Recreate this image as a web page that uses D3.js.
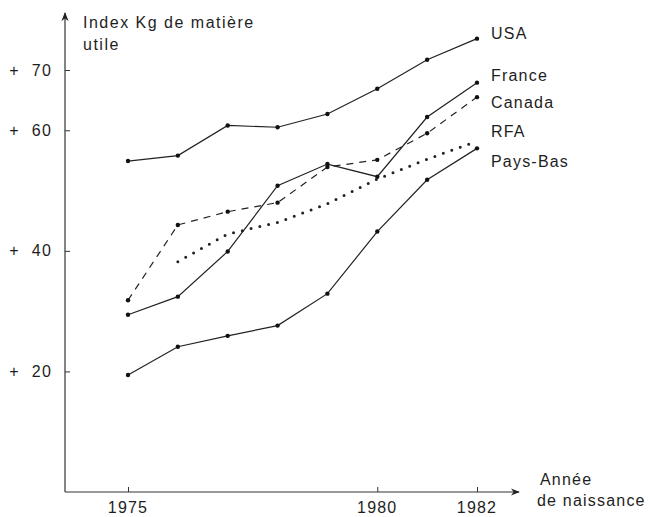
<!DOCTYPE html>
<html>
<head>
<meta charset="utf-8">
<script src="https://cdn.jsdelivr.net/npm/d3@7"></script>
<style>
  body { margin: 0; background: #fff; }
  svg text { font-family: "Liberation Sans", Arial, sans-serif; fill: #1e1e1e; font-size: 16px; letter-spacing: 1.2px; }
</style>
</head>
<body>
<div id="chart"></div>
<script>
// data
const years = [1975, 1976, 1977, 1978, 1979, 1980, 1981, 1982];
const usa      = [54.9, 55.8, 60.8, 60.5, 62.7, 66.9, 71.7, 75.2];
const france   = [29.4, 32.4, 39.9, 50.8, 54.4, 52.3, 62.2, 67.9];
const canada   = [31.8, 44.3, 46.5, 48.0, 53.9, 55.1, 59.5, 65.5];
const rfa      = [null, 38.2, 42.8, 44.7, 47.8, 51.9, 55.2, 58.2];
const paysBas  = [19.4, 24.1, 25.9, 27.6, 32.9, 43.2, 51.8, 57.0];
const seriesNames = ['USA', 'France', 'Canada', 'RFA', 'Pays-Bas'];
const yTicks = [20, 40, 60, 70];
const xTicks = [1975, 1980, 1982];

const width = 650, height = 517;

const svg = d3.select('#chart').append('svg')
    .attr('width', width)
    .attr('height', height);

const x = d3.scaleLinear().domain([1975, 1982]).range([128, 477]);
const y = d3.scaleLinear().domain([0, 70]).range([492, 70]);
const axisX = 65;

// arrow heads
const defs = svg.append('defs');
defs.append('marker')
    .attr('id', 'arrow')
    .attr('viewBox', '0 0 10 10')
    .attr('refX', 9).attr('refY', 5)
    .attr('markerWidth', 9).attr('markerHeight', 9)
    .attr('markerUnits', 'userSpaceOnUse')
    .attr('orient', 'auto')
  .append('path')
    .attr('d', 'M0,1 L10,5 L0,9 L3,5 Z')
    .attr('fill', '#222');

// y axis, ticks pointing inward
const yAxis = d3.axisRight(y).tickValues(yTicks).tickSize(5).tickFormat('');
const gy = svg.append('g').attr('transform', `translate(${axisX},0)`).call(yAxis);
gy.select('.domain').remove();
gy.selectAll('.tick line').attr('stroke', '#333');
svg.append('line')
    .attr('x1', axisX).attr('y1', y(0))
    .attr('x2', axisX).attr('y2', 13)
    .attr('stroke', '#333').attr('stroke-width', 1.2)
    .attr('marker-end', 'url(#arrow)');

svg.selectAll('.yplus').data(yTicks).enter().append('text')
    .attr('x', 14).attr('y', d => y(d)).attr('dy', '0.35em')
    .attr('text-anchor', 'middle')
    .style('letter-spacing', '0px')
    .text('+');
svg.selectAll('.ylab').data(yTicks).enter().append('text')
    .attr('x', 52).attr('y', d => y(d)).attr('dy', '0.35em')
    .attr('text-anchor', 'end')
    .text(d => d);

// x axis, ticks pointing up
const xAxis = d3.axisTop(x).tickValues(xTicks).tickSize(5).tickFormat('');
const gx = svg.append('g').attr('transform', `translate(0,${y(0)})`).call(xAxis);
gx.select('.domain').remove();
gx.selectAll('.tick line').attr('stroke', '#333');
svg.append('line')
    .attr('x1', axisX).attr('y1', y(0))
    .attr('x2', 519).attr('y2', y(0))
    .attr('stroke', '#333').attr('stroke-width', 1.2)
    .attr('marker-end', 'url(#arrow)');

svg.selectAll('.xlab').data(xTicks).enter().append('text')
    .attr('x', d => x(d)).attr('y', 513)
    .attr('text-anchor', 'middle')
    .text(d => d);

// axis titles
svg.append('text').attr('x', 83).attr('y', 28).style('letter-spacing', '1.5px').text('Index Kg de matière');
svg.append('text').attr('x', 83).attr('y', 50).style('letter-spacing', '1.5px').text('utile');
svg.append('text').attr('x', 540).attr('y', 485).text('Année');
svg.append('text').attr('x', 537).attr('y', 506).text('de naissance');

// series
const series = [
    { name: seriesNames[0], values: usa,     dash: null,  dots: true },
    { name: seriesNames[1], values: france,  dash: null,  dots: true },
    { name: seriesNames[2], values: canada,  dash: '7,6', dots: true },
    { name: seriesNames[3], values: rfa,     dash: 'dot', dots: false },
    { name: seriesNames[4], values: paysBas, dash: null,  dots: true }
];

const line = d3.line()
    .defined(d => d[1] !== null)
    .x(d => x(d[0]))
    .y(d => y(d[1]));

series.forEach(s => {
    const pts = years.map((yr, i) => [yr, s.values[i]]);
    const path = svg.append('path')
        .datum(pts)
        .attr('d', line)
        .attr('fill', 'none')
        .attr('stroke', '#222');
    if (s.dash === 'dot') {
        path.attr('stroke-width', 3)
            .attr('stroke-linecap', 'round')
            .attr('stroke-dasharray', '0,9');
    } else {
        path.attr('stroke-width', 1.2);
        if (s.dash) path.attr('stroke-dasharray', s.dash);
    }
    if (s.dots) {
        svg.selectAll(null)
            .data(pts.filter(d => d[1] !== null))
            .enter().append('circle')
            .attr('cx', d => x(d[0]))
            .attr('cy', d => y(d[1]))
            .attr('r', 2.2)
            .attr('fill', '#111');
    }
});

// series labels at the right
const labelY = { 'USA': 39, 'France': 81, 'Canada': 108, 'RFA': 137, 'Pays-Bas': 167 };
svg.selectAll('.slab').data(seriesNames).enter().append('text')
    .attr('x', 491).attr('y', d => labelY[d])
    .text(d => d);
</script>
</body>
</html>
